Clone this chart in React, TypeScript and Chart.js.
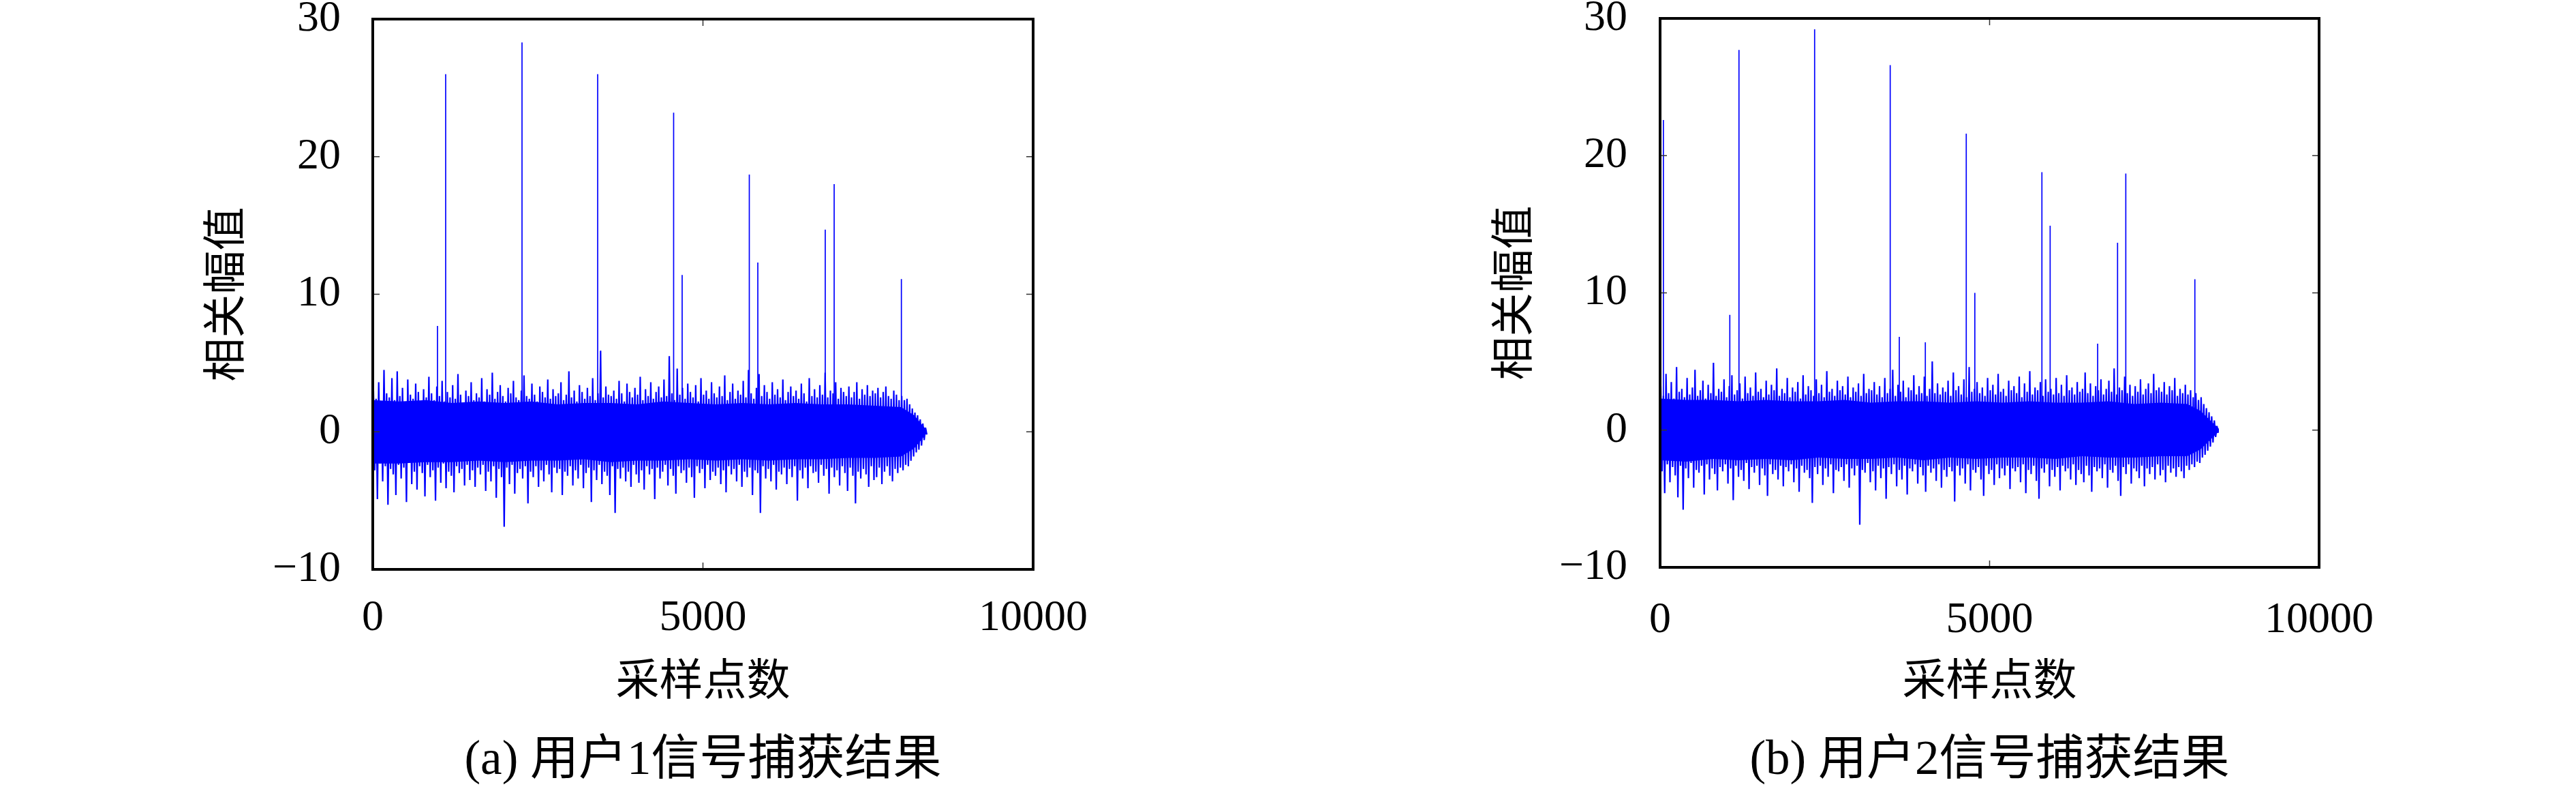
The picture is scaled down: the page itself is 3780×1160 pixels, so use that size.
import { useEffect, useRef } from "react";
import { Chart, registerables } from "chart.js";

Chart.register(...registerables);

// ---------------- data ----------------
const BIN_SIZE = 40; // samples per envelope bin
const xTickValues = [0, 5000, 10000];
const yTickValues = [-10, 0, 10, 20, 30];
const xAxisTitle = "采样点数";
const yAxisTitle = "相关幅值";
const captionA = "(a) 用户1信号捕获结果";
const captionB = "(b) 用户2信号捕获结果";

// user 1: per-bin maximum / minimum of the correlation noise
const noiseHighA = [
  3.0, 2.4, 3.6, 2.2, 4.5, 2.8, 2.5, 3.9, 2.3, 4.4,
  2.6, 3.2, 2.1, 3.8, 2.7, 2.4, 3.5, 2.9, 2.2, 3.1,
  2.5, 4.0, 2.8, 2.3, 3.3, 2.6, 3.7, 2.2, 2.9, 2.5,
  3.4, 2.4, 4.2, 2.7, 2.1, 3.0, 2.6, 3.6, 2.3, 2.8,
  2.5, 3.9, 2.2, 3.1, 2.7, 4.3, 2.4, 2.9, 3.4, 2.6,
  2.2, 3.2, 2.8, 3.7, 2.5, 2.3, 3.0, 4.1, 2.6, 2.4,
  3.5, 2.7, 2.2, 3.3, 2.9, 2.5, 3.8, 2.4, 3.1, 2.6,
  2.8, 3.6, 2.3, 2.7, 4.4, 2.5, 3.0, 2.2, 3.4, 2.9,
  2.4, 3.2, 2.6, 3.9, 2.3, 2.8, 5.9, 2.5, 3.3, 2.7,
  2.6, 3.0, 2.4, 3.7, 2.8, 2.2, 3.5, 2.9, 2.5, 3.2,
  2.7, 4.0, 2.3, 3.1, 2.6, 3.6, 2.4, 2.9, 3.3, 2.5,
  3.8, 2.6, 5.5, 2.8, 2.3, 4.6, 2.7, 3.2, 2.4, 3.5,
  2.9, 2.5, 3.4, 2.2, 3.9, 2.7, 3.0, 2.4, 3.6, 2.8,
  2.5, 3.3, 2.6, 4.1, 2.3, 2.9, 3.5, 2.4, 3.0, 2.7,
  3.7, 2.5, 4.5, 2.8, 2.4, 3.2, 4.2, 2.6, 3.4, 2.9,
  2.4, 3.6, 2.7, 3.1, 2.5, 3.8, 2.3, 2.9, 3.3, 2.6,
  3.0, 2.4, 3.5, 2.8, 2.2, 3.9, 2.6, 3.1, 2.5, 3.4,
  2.7, 4.3, 2.5, 3.0, 2.8, 3.6, 2.4, 3.2, 2.9, 2.6,
  3.3, 2.5, 2.9, 3.6, 2.4, 3.1, 2.7, 3.4, 2.6, 3.0,
  2.8, 3.2, 2.5, 2.9, 3.3, 2.6, 2.4, 3.0, 2.7, 2.3,
  2.6, 2.3, 2.4, 2.0, 1.7, 1.4, 1.2, 0.9, 0.6, 0.3,
];
const noiseLowA = [
  -2.8, -4.9, -2.3, -3.6, -2.5, -5.3, -2.7, -3.1, -4.6, -2.4,
  -3.4, -2.6, -5.1, -2.2, -3.8, -2.9, -4.2, -2.5, -3.0, -4.7,
  -2.4, -3.3, -2.8, -5.0, -2.6, -3.7, -2.3, -4.1, -2.9, -3.2,
  -4.4, -2.5, -3.0, -2.7, -3.9, -2.4, -3.5, -2.8, -4.0, -2.6,
  -3.1, -2.4, -4.3, -2.9, -3.6, -2.5, -4.8, -2.7, -3.3, -6.9,
  -2.6, -3.8, -2.4, -4.5, -3.0, -2.7, -3.4, -2.5, -5.2, -2.9,
  -3.3, -2.5, -4.0, -2.8, -3.6, -2.4, -3.1, -4.4, -2.6, -3.0,
  -2.7, -4.6, -2.9, -3.2, -2.5, -3.9, -2.8, -3.4, -2.4, -4.1,
  -3.0, -2.6, -5.1, -2.8, -3.5, -2.4, -3.8, -2.9, -3.2, -4.6,
  -2.5, -5.9, -2.7, -3.4, -2.6, -3.6, -2.9, -4.0, -2.4, -3.1,
  -3.7, -2.8, -4.2, -2.5, -3.1, -2.7, -4.9, -2.6, -3.4, -2.9,
  -2.4, -3.9, -2.7, -3.2, -4.5, -2.5, -3.0, -2.8, -3.7, -2.6,
  -3.3, -4.8, -2.5, -3.0, -2.7, -4.1, -2.4, -3.5, -2.9, -3.2,
  -2.6, -3.8, -2.8, -4.4, -2.5, -3.1, -2.7, -3.6, -2.4, -4.0,
  -2.9, -3.3, -2.6, -4.6, -2.8, -3.0, -5.9, -2.5, -3.4, -2.7,
  -3.6, -2.4, -4.2, -2.9, -3.1, -2.6, -3.8, -2.7, -3.3, -2.5,
  -5.0, -2.8, -3.4, -2.6, -4.1, -2.5, -3.0, -2.9, -3.7, -2.4,
  -3.2, -2.7, -4.5, -2.6, -3.3, -2.8, -3.9, -2.5, -3.0, -4.3,
  -2.6, -3.2, -5.2, -2.9, -3.4, -2.7, -3.1, -4.0, -2.5, -3.5,
  -3.3, -2.6, -3.8, -2.9, -2.5, -3.2, -3.6, -2.7, -3.0, -2.6,
  -2.8, -2.4, -2.5, -2.1, -1.8, -1.5, -1.3, -1.0, -0.6, -0.2,
];
// dense (saturated) core of the noise band for user 1
const coreXA = [0, 400, 800, 1200, 1600, 2000, 2400, 2800, 3200, 3600, 4000, 4400, 4800, 5200, 5600, 6000, 6400, 6800, 7200, 7600, 8000, 8200, 8390];
const coreUpA = [2.3, 2.2, 2.3, 2.1, 2.2, 2.1, 2.2, 2.0, 2.1, 2.1, 2.0, 2.2, 2.1, 2.0, 2.1, 2.0, 2.1, 2.0, 2.0, 1.9, 1.8, 1.2, 0.1];
const coreLoA = [-2.3, -2.3, -2.2, -2.2, -2.1, -2.2, -2.1, -2.1, -2.0, -2.2, -2.1, -2.1, -2.0, -2.1, -2.0, -2.1, -2.0, -2.0, -1.9, -1.9, -1.8, -1.2, -0.1];
const spikeXA = [980, 1104, 2260, 3406, 4556, 4685, 5702, 5831, 6852, 6987, 8005];
const spikeYA = [7.7, 26.0, 28.3, 26.0, 23.2, 11.4, 18.7, 12.3, 14.7, 18.0, 11.1];

// user 2
const noiseHighB = [
  3.2, 2.5, 4.1, 2.7, 3.5, 2.3, 4.6, 2.8, 3.0, 2.4,
  3.8, 2.6, 3.1, 4.4, 2.5, 2.9, 3.6, 2.3, 3.3, 2.7,
  4.9, 2.5, 3.0, 2.8, 3.7, 2.4, 3.2, 4.0, 2.6, 2.9,
  3.4, 2.3, 3.9, 2.7, 3.1, 2.5, 4.2, 2.8, 3.0, 2.4,
  3.6, 2.6, 3.3, 2.9, 4.5, 2.5, 3.0, 2.7, 3.8, 2.4,
  3.1, 2.8, 3.5, 2.3, 4.0, 2.6, 3.2, 2.9, 2.5, 3.7,
  2.7, 3.3, 2.4, 4.3, 2.8, 3.0, 2.5, 3.6, 2.9, 3.2,
  2.6, 3.9, 2.4, 3.1, 2.8, 3.4, 2.5, 4.1, 2.7, 3.0,
  2.9, 3.5, 2.6, 3.2, 2.4, 3.8, 2.7, 3.0, 4.4, 2.5,
  3.3, 2.8, 3.6, 2.4, 3.1, 2.9, 4.0, 2.6, 3.2, 2.7,
  3.9, 2.5, 3.0, 5.0, 2.7, 3.4, 2.6, 3.1, 2.8, 3.6,
  2.5, 4.2, 2.9, 3.2, 2.6, 3.7, 2.4, 4.6, 2.8, 3.0,
  3.5, 2.7, 3.1, 2.5, 3.8, 2.9, 3.3, 2.6, 4.1, 2.8,
  3.0, 2.5, 3.6, 2.9, 3.2, 2.7, 3.9, 2.4, 3.4, 2.8,
  4.3, 2.6, 3.1, 2.9, 3.5, 2.5, 3.7, 2.8, 3.0, 2.6,
  3.8, 2.7, 3.3, 2.5, 4.0, 2.9, 3.1, 2.6, 3.5, 2.8,
  3.0, 4.2, 2.7, 3.4, 2.5, 3.2, 2.9, 3.7, 2.6, 3.0,
  3.6, 2.8, 4.5, 2.6, 3.1, 2.9, 3.9, 2.7, 3.3, 2.5,
  3.2, 2.8, 3.7, 2.6, 3.0, 3.4, 2.7, 4.1, 2.9, 3.1,
  2.8, 3.5, 2.6, 3.2, 2.9, 3.8, 2.5, 3.0, 2.7, 3.3,
  2.6, 2.9, 2.4, 2.7, 2.2, 2.4, 1.9, 1.6, 1.3, 1.0, 0.7, 0.3,
];
const noiseLowB = [
  -3.0, -4.6, -2.5, -3.8, -2.7, -3.3, -4.9, -2.6, -5.8, -2.8,
  -3.5, -2.4, -4.2, -2.9, -3.1, -2.6, -4.7, -2.5, -3.6, -2.8,
  -3.2, -4.4, -2.7, -3.0, -2.5, -3.9, -2.8, -5.1, -2.6, -3.4,
  -2.9, -3.7, -2.4, -4.3, -2.7, -3.1, -2.6, -4.0, -2.8, -3.3,
  -4.8, -2.5, -3.2, -2.9, -3.6, -2.6, -4.1, -2.7, -3.0, -2.5,
  -3.8, -2.8, -4.5, -2.6, -3.1, -2.9, -3.5, -5.3, -2.7, -3.2,
  -2.6, -4.0, -2.8, -3.4, -2.5, -4.6, -2.9, -3.0, -2.7, -3.7,
  -2.5, -4.2, -2.8, -3.3, -2.6, -6.9, -2.9, -3.1, -2.4, -3.8,
  -3.0, -4.4, -2.6, -3.5, -2.8, -5.0, -2.7, -3.2, -2.5, -4.1,
  -2.9, -3.6, -2.6, -4.7, -2.8, -3.0, -2.5, -3.9, -2.7, -3.3,
  -4.5, -2.6, -3.1, -2.8, -3.7, -2.5, -4.2, -2.9, -3.4, -2.7,
  -3.0, -5.2, -2.6, -3.3, -2.8, -3.9, -2.5, -4.4, -2.9, -3.1,
  -2.7, -3.6, -4.8, -2.6, -3.2, -2.9, -4.0, -2.5, -3.5, -2.8,
  -3.3, -2.6, -4.3, -2.8, -3.0, -2.7, -3.8, -2.5, -4.6, -2.9,
  -3.2, -2.6, -3.7, -5.0, -2.8, -3.1, -2.5, -4.1, -2.9, -3.4,
  -2.7, -4.4, -2.6, -3.0, -2.8, -3.6, -2.5, -4.0, -2.9, -3.2,
  -3.8, -2.6, -3.3, -4.5, -2.7, -3.0, -2.8, -3.5, -2.5, -4.2,
  -2.9, -3.1, -2.6, -3.7, -4.8, -2.7, -3.2, -2.5, -3.9, -2.8,
  -3.0, -3.5, -2.6, -4.1, -2.8, -3.2, -2.7, -3.6, -2.5, -3.3,
  -2.9, -3.8, -2.6, -3.1, -2.8, -3.4, -2.7, -3.0, -3.5, -2.6,
  -2.9, -2.5, -2.7, -2.3, -2.4, -2.0, -1.8, -1.5, -1.2, -0.9, -0.5, -0.2,
];
const coreXB = [0, 400, 800, 1200, 1600, 2000, 2400, 2800, 3200, 3600, 4000, 4400, 4800, 5200, 5600, 6000, 6400, 6800, 7200, 7600, 8000, 8200, 8480];
const coreUpB = [2.3, 2.2, 2.2, 2.1, 2.2, 2.1, 2.1, 2.2, 2.0, 2.1, 2.1, 2.0, 2.1, 2.0, 2.1, 2.0, 2.0, 2.1, 1.9, 2.0, 1.9, 1.4, 0.1];
const coreLoB = [-2.2, -2.3, -2.1, -2.2, -2.1, -2.2, -2.0, -2.1, -2.1, -2.0, -2.2, -2.0, -2.1, -2.0, -2.0, -2.1, -1.9, -2.0, -2.0, -1.9, -1.9, -1.4, -0.1];
const spikeXB = [50, 1058, 1197, 2345, 3492, 3630, 4025, 4646, 4776, 5794, 5919, 6640, 6942, 7067, 8115];
const spikeYB = [22.6, 8.4, 27.7, 29.2, 26.6, 6.8, 6.4, 21.6, 10.0, 18.8, 14.9, 6.3, 13.65, 18.7, 11.0];

// ---------------- rendering ----------------
const LATIN = '"Liberation Serif", "Noto Sans CJK SC", serif';
const CJK = '"Noto Sans CJK SC", "Liberation Serif", sans-serif';
const BLUE = "#0000ff";
const CANVAS_W = 1890;
const CANVAS_H = 1160;

function fmt(v: number) {
  return v < 0 ? "\u2212" + Math.abs(v) : String(v);
}

function buildNoise(hi: number[], lo: number[]) {
  const pts: { x: number; y: number }[] = [];
  for (let i = 0; i < hi.length; i++) {
    pts.push({ x: i * BIN_SIZE + BIN_SIZE * 0.25, y: hi[i] });
    pts.push({ x: i * BIN_SIZE + BIN_SIZE * 0.75, y: lo[i] });
  }
  return pts;
}

function zipXY(xs: number[], ys: number[]) {
  return xs.map((x, i) => ({ x, y: ys[i] }));
}

function buildSpikes(xs: number[], ys: number[]) {
  const pts: { x: number; y: number | null }[] = [];
  xs.forEach((x, i) => {
    pts.push({ x, y: 0 }, { x, y: ys[i] }, { x, y: null });
  });
  return pts;
}

const framePlugin = {
  id: "frame",
  afterDatasetsDraw(chart: any) {
    const { ctx, chartArea, scales } = chart;
    const { left, right, top, bottom } = chartArea;
    ctx.save();
    ctx.strokeStyle = "#333";
    ctx.lineWidth = 1.5;
    ctx.beginPath();
    for (const t of scales.y.ticks) {
      const py = scales.y.getPixelForValue(t.value);
      ctx.moveTo(left, py);
      ctx.lineTo(left + 10, py);
      ctx.moveTo(right, py);
      ctx.lineTo(right - 10, py);
    }
    for (const t of scales.x.ticks) {
      const px = scales.x.getPixelForValue(t.value);
      ctx.moveTo(px, bottom);
      ctx.lineTo(px, bottom - 10);
      ctx.moveTo(px, top);
      ctx.lineTo(px, top + 10);
    }
    ctx.stroke();
    ctx.strokeStyle = "#000";
    ctx.lineWidth = 4;
    ctx.strokeRect(left, top, right - left, bottom - top);
    ctx.restore();
  },
};

type Geo = {
  areaTop: number;
  yWidth: number;
  padRight: number;
  xHeight: number;
  xTickPad: number;
  yTickPad: number;
};

type Series = {
  hi: number[];
  lo: number[];
  coreX: number[];
  coreUp: number[];
  coreLo: number[];
  sx: number[];
  sy: number[];
};

function makeConfig(s: Series, caption: string, g: Geo): any {
  return {
    type: "line",
    data: {
      datasets: [
        {
          data: zipXY(s.coreX, s.coreUp),
          borderWidth: 0,
          borderColor: BLUE,
          backgroundColor: BLUE,
          pointRadius: 0,
          tension: 0,
          fill: "+1",
        },
        {
          data: zipXY(s.coreX, s.coreLo),
          borderWidth: 0,
          borderColor: BLUE,
          pointRadius: 0,
          tension: 0,
          fill: false,
        },
        {
          data: buildNoise(s.hi, s.lo),
          borderColor: BLUE,
          borderWidth: 2.2,
          borderJoinStyle: "bevel",
          pointRadius: 0,
          tension: 0,
          fill: false,
        },
        {
          data: buildSpikes(s.sx, s.sy),
          borderColor: BLUE,
          borderWidth: 1.7,
          pointRadius: 0,
          tension: 0,
          fill: false,
          spanGaps: false,
        },
      ],
    },
    options: {
      animation: false,
      responsive: false,
      events: [],
      layout: { padding: { left: 0, top: g.areaTop, right: g.padRight, bottom: 0 } },
      plugins: {
        legend: { display: false },
        tooltip: { enabled: false },
        title: {
          display: true,
          position: "bottom",
          fullSize: false,
          text: caption,
          color: "#000",
          font: { family: LATIN, size: 71, weight: "normal", lineHeight: 1.2 },
          padding: { top: 0, bottom: 1.4 },
        },
      },
      scales: {
        x: {
          type: "linear",
          min: 0,
          max: 10000,
          afterBuildTicks: (sc: any) => {
            sc.ticks = xTickValues.map((v) => ({ value: v }));
          },
          afterFit: (sc: any) => {
            sc.height = g.xHeight;
            sc.paddingLeft = 0;
            sc.paddingRight = 0;
          },
          ticks: {
            color: "#000",
            padding: g.xTickPad,
            maxRotation: 0,
            autoSkip: false,
            font: { family: LATIN, size: 64, lineHeight: 0.8 },
            callback: (v: number) => fmt(v),
          },
          grid: { display: false, drawTicks: false },
          border: { display: false },
          title: {
            display: true,
            text: xAxisTitle,
            color: "#000",
            font: { family: CJK, size: 64, lineHeight: 1.2 },
            padding: { top: 0, bottom: 40 },
          },
        },
        y: {
          type: "linear",
          min: -10,
          max: 30,
          afterBuildTicks: (sc: any) => {
            sc.ticks = yTickValues.map((v) => ({ value: v }));
          },
          afterFit: (sc: any) => {
            sc.width = g.yWidth;
            sc.paddingTop = 0;
            sc.paddingBottom = 0;
          },
          ticks: {
            color: "#000",
            padding: g.yTickPad,
            autoSkip: false,
            font: { family: LATIN, size: 64, lineHeight: 0.8 },
            callback: (v: number) => fmt(v),
          },
          grid: { display: false, drawTicks: false },
          border: { display: false },
          title: {
            display: true,
            text: yAxisTitle,
            color: "#000",
            font: { family: CJK, size: 64, lineHeight: 1.2 },
            padding: { top: 289, bottom: 0 },
          },
        },
      },
    },
    plugins: [framePlugin],
  };
}

function Panel({ which, left }: { which: "a" | "b"; left: number }) {
  const ref = useRef<HTMLCanvasElement>(null);
  useEffect(() => {
    const cfg =
      which === "a"
        ? makeConfig(
            { hi: noiseHighA, lo: noiseLowA, coreX: coreXA, coreUp: coreUpA, coreLo: coreLoA, sx: spikeXA, sy: spikeYA },
            captionA,
            { areaTop: 28, yWidth: 547, padRight: CANVAS_W - 1516, xHeight: 1073.4 - 835, xTickPad: 47, yTickPad: 47 }
          )
        : makeConfig(
            { hi: noiseHighB, lo: noiseLowB, coreX: coreXB, coreUp: coreUpB, coreLo: coreLoB, sx: spikeXB, sy: spikeYB },
            captionB,
            { areaTop: 27, yWidth: 546, padRight: CANVAS_W - 1513, xHeight: 1073.4 - 832, xTickPad: 53, yTickPad: 48 }
          );
    const chart = new Chart(ref.current as HTMLCanvasElement, cfg);
    return () => chart.destroy();
  }, [which]);
  return (
    <canvas
      ref={ref}
      width={CANVAS_W}
      height={CANVAS_H}
      style={{ position: "absolute", left, top: 0, width: CANVAS_W, height: CANVAS_H, display: "block" }}
    />
  );
}

export default function App() {
  return (
    <div style={{ position: "absolute", left: 0, top: 0, width: 3780, height: 1160, background: "#fff", overflow: "hidden" }}>
      <Panel which="a" left={0} />
      <Panel which="b" left={CANVAS_W} />
    </div>
  );
}
